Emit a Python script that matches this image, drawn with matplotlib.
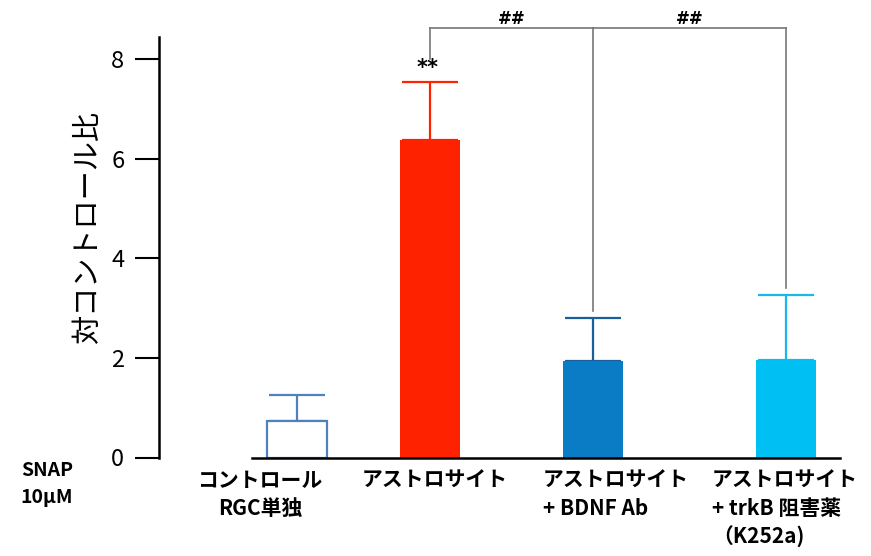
import matplotlib
matplotlib.use('Agg')
import matplotlib.pyplot as plt

plt.rcParams['font.family'] = ['Noto Sans CJK JP', 'DejaVu Sans']

groups = ['コントロール\nRGC単独', 'アストロサイト', 'アストロサイト\n+ BDNF Ab',
          'アストロサイト\n+ trkB 阻害薬\n（K252a)']
means = [0.73, 6.38, 1.94, 1.96]
errs = [0.52, 1.16, 0.86, 1.30]
fills = ['white', '#ff2200', '#0a7cc6', '#00bff2']
edges = ['#4f81bd', '#ff2200', '#0a7cc6', '#00bff2']
errcolors = ['#4f81bd', '#ff2200', '#1a5e9e', '#19b8ec']
yticks = [0, 2, 4, 6, 8]
# significance: (from, to, label)
brackets = [(1, 2, '##'), (2, 3, '##')]

xpos = [0, 1.33, 2.96, 4.89]

fig = plt.figure(figsize=(8.71, 5.56), dpi=100)
ax = fig.add_axes([159 / 871, 1 - 457.5 / 556, (860 - 159) / 871, (457.5 - 37) / 556])
ax.set_xlim(-1.38, 5.63)
ax.set_ylim(0, 8.44)

for i in range(len(means)):
    ax.errorbar(xpos[i], means[i], yerr=[[0], [errs[i]]], color=errcolors[i],
                capsize=20, elinewidth=1.6, capthick=1.6, zorder=2)
    ax.bar(xpos[i], means[i], width=0.6, color=fills[i], edgecolor=edges[i],
           linewidth=1.6 if fills[i] == 'white' else 0, zorder=3)

# baseline
ax.plot([-0.45, 5.43], [0, 0], color='black', lw=1.8, zorder=4, clip_on=False)

# brackets
top = 8.62
gray = '#777777'
for a, b, lab in brackets:
    ax.plot([xpos[a], xpos[b]], [top, top], color=gray, lw=1.2, clip_on=False)
    ax.text((xpos[a] + xpos[b]) / 2, 8.8, lab, ha='center', va='center',
            fontsize=12, fontweight='bold', family='DejaVu Sans')
ax.plot([xpos[1], xpos[1]], [8.0, top], color=gray, lw=1.2, clip_on=False)
for k in (2, 3):
    ax.plot([xpos[k], xpos[k]], [means[k] + errs[k] + 0.15, top], color=gray,
            lw=1.2, clip_on=False)
ax.text(xpos[1] - 0.02, 7.82, '**', ha='center', va='center', fontsize=15,
        fontweight='bold', family='DejaVu Sans')

for s in ('top', 'right', 'bottom'):
    ax.spines[s].set_visible(False)
ax.spines['left'].set_linewidth(1.8)
ax.set_yticks(yticks)
ax.tick_params(axis='y', length=17, width=1.5, labelsize=17, pad=8)
ax.set_xticks([])
ax.text(-0.101, 0.546, '対コントロール比', transform=ax.transAxes, rotation=90,
        ha='center', va='center', fontsize=21)

# category labels
ax.text(-0.37, -0.25, groups[0], ha='center', va='top', fontsize=15,
        fontweight='bold', linespacing=1.4)
lefts = [None, 0.65, 2.46, 4.15]
for i in range(1, 4):
    ax.text(lefts[i], -0.25, groups[i], ha='left', va='top', fontsize=15,
            fontweight='bold', multialignment='left', linespacing=1.4)

fig.text(47 / 871, 1 - 484 / 556, 'SNAP\n10μM', ha='center', va='center',
         fontsize=14, fontweight='bold', linespacing=1.5)

fig.savefig('out.png', dpi=100)
